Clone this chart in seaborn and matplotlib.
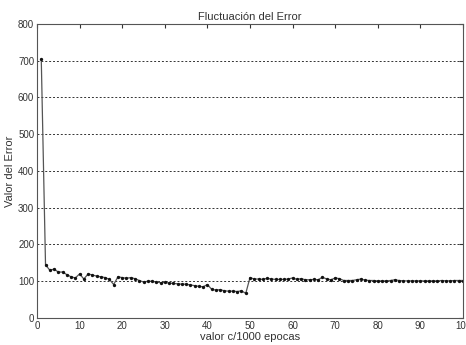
import numpy as np
import pandas as pd
import matplotlib
matplotlib.use("Agg")
import matplotlib.pyplot as plt
import seaborn as sns

# error value per 1000 epochs
epocas = list(range(1, 101))
error = [705, 145, 130, 133, 125, 125, 118, 112, 109, 120,
         106, 120, 117, 114, 112, 110, 105, 91, 112, 110,
         108, 110, 107, 102, 98, 100, 100, 98, 96, 97,
         95, 94, 93, 92, 92, 90, 88, 86, 85, 91,
         78, 76, 77, 74, 73, 73, 72, 74, 67, 110,
         106, 106, 105, 108, 106, 105, 105, 105, 106, 109,
         105, 107, 104, 104, 105, 104, 111, 106, 104, 109,
         107, 102, 102, 102, 104, 106, 103, 102, 102, 101,
         101, 101, 102, 104, 102, 101, 101, 101, 101, 101,
         101, 101, 101, 101, 102, 101, 101, 102, 102, 102]
x_ticks = list(range(0, 101, 10))
y_ticks = list(range(0, 801, 100))

df = pd.DataFrame({"epoca": epocas, "error": error})

sns.set_style("white")
plt.rcParams['font.family'] = ['Liberation Sans', 'DejaVu Sans']

fig = plt.figure(figsize=(4.66, 3.45), dpi=100)
ax = fig.add_axes([0.0794, 0.0783, 0.9142, 0.8522])

sns.lineplot(data=df, x="epoca", y="error", ax=ax, color="#555555",
             linewidth=0.9, marker="o", markersize=2.4, markeredgewidth=0,
             markerfacecolor="#111111")

ax.set_xlim(0, 100)
ax.set_ylim(0, 800)
ax.set_xticks(x_ticks)
ax.set_yticks(y_ticks)
ax.yaxis.grid(True, linestyle=(0, (2, 2)), color="#333333", linewidth=0.7)
ax.xaxis.grid(False)

ax.tick_params(axis="both", direction="in", length=3, labelsize=7,
               colors="#333333", top=True, right=True, pad=2)
for s in ax.spines.values():
    s.set_color("#555555")
    s.set_linewidth(0.8)

ax.set_title("Fluctuación del Error", fontsize=8, color="#333333", pad=3)
ax.set_xlabel("valor c/1000 epocas", fontsize=8, color="#333333", labelpad=1)
ax.set_ylabel("Valor del Error", fontsize=8, color="#333333", labelpad=2)

fig.savefig("out.png", dpi=100)
